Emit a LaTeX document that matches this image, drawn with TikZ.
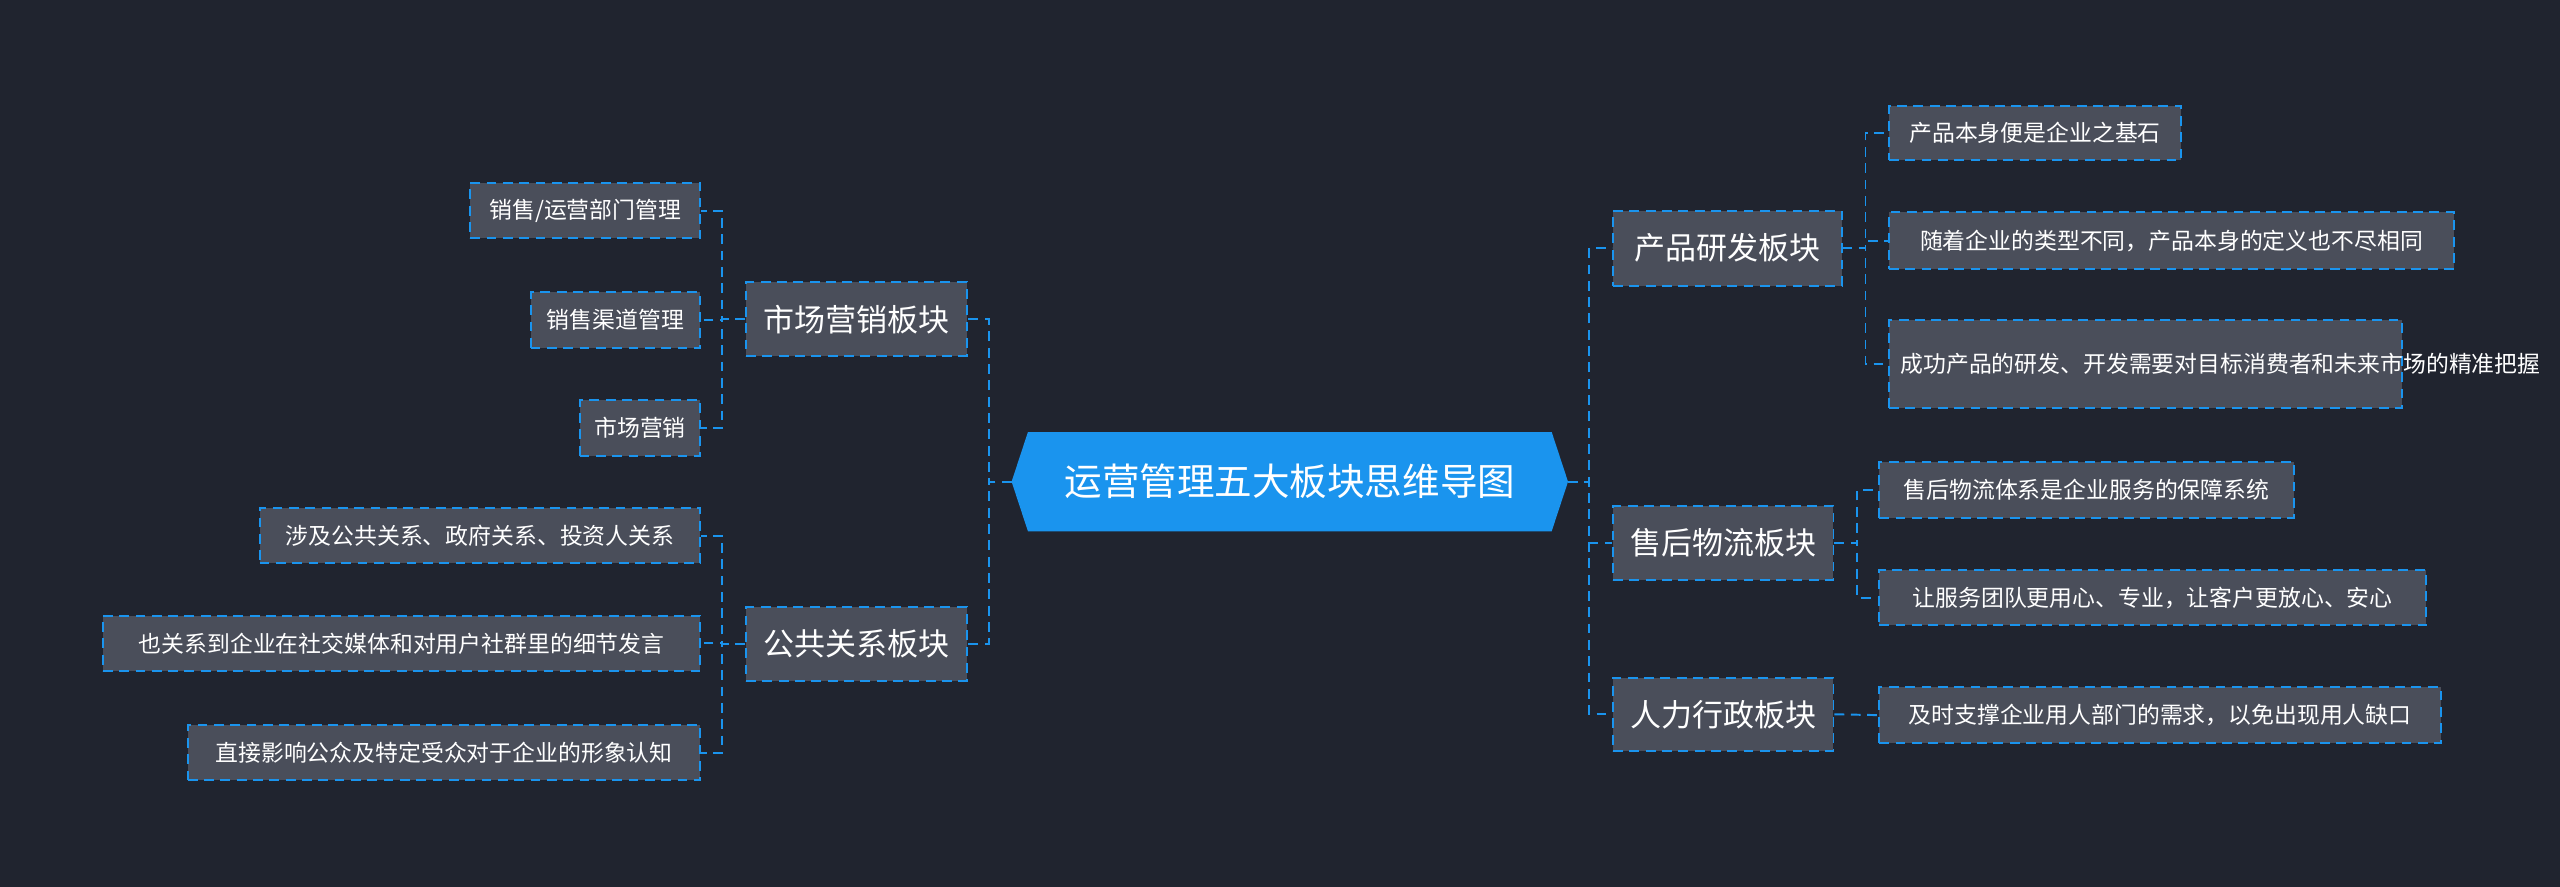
\documentclass[tikz,border=0pt]{standalone}
\usepackage{fontspec}
\setmainfont{Noto Sans CJK SC}
\begin{document}
\begin{tikzpicture}[x=0.5pt,y=-0.5pt,
  conn/.style={draw=cblue, densely dashed, line width=0.6pt},
  box/.style={draw=cblue, densely dashed, line width=0.6pt, fill=boxgray, text=white, inner sep=0pt, anchor=center},
  leaf/.style={box, font=\fontsize{7}{9}\selectfont},
  branch/.style={box, font=\fontsize{9.5}{11}\selectfont},
  sz/.style 2 args={minimum width=#1*0.5pt, minimum height=#2*0.5pt}]
\definecolor{bg}{HTML}{20242F}
\definecolor{boxgray}{HTML}{4A4E5A}
\definecolor{cblue}{HTML}{1A94EE}
\fill[bg] (0,0) rectangle (1568,543);
\useasboundingbox (0,0) rectangle (1568,543);
% center
\node[inner sep=0pt, sz={340}{60}] (c) at (790,295) {};
\fill[cblue] (c.west) -- ([xshift=5pt]c.north west) -- ([xshift=-5pt]c.north east) -- (c.east) -- ([xshift=-5pt]c.south east) -- ([xshift=5pt]c.south west) -- cycle;
\node[inner sep=0pt, text=white, font=\fontsize{11.5}{13}\selectfont] at (c) {运营管理五大板块思维导图};
% branches
\node[branch, sz={135}{45}] (b1) at (524.5,195.5) {市场营销板块};
\node[branch, sz={135}{45}] (b2) at (524.5,394.5) {公共关系板块};
\node[branch, sz={140}{46}] (b3) at (1058,152) {产品研发板块};
\node[branch, sz={135}{45}] (b4) at (1055.5,332.5) {售后物流板块};
\node[branch, sz={135}{45}] (b5) at (1055.5,437.5) {人力行政板块};
% leaves left
\node[leaf, sz={141}{34}] (l1) at (358.5,129) {销售/运营部门管理};
\node[leaf, sz={104}{34}] (l2) at (377,196) {销售渠道管理};
\node[leaf, sz={74}{34}] (l3) at (392,262) {市场营销};
\node[leaf, sz={270}{34}] (l4) at (294,328) {涉及公共关系、政府关系、投资人关系};
\node[leaf, sz={366}{34}] (l5) at (246,394) {也关系到企业在社交媒体和对用户社群里的细节发言};
\node[leaf, sz={314}{34}] (l6) at (272,461) {直接影响公众及特定受众对于企业的形象认知};
% leaves right
\node[leaf, sz={179}{33}] (r1) at (1246.5,81.5) {产品本身便是企业之基石};
\node[leaf, sz={346}{35}] (r2) at (1330,147.5) {随着企业的类型不同，产品本身的定义也不尽相同};
\node[leaf, sz={314}{54}, text width=150pt, align=left] (r3) at (1314,223) {成功产品的研发、开发需要对目标消费者和未来市场的精准把握};
\node[leaf, sz={254}{34}] (r4) at (1278,300) {售后物流体系是企业服务的保障系统};
\node[leaf, sz={335}{34}] (r5) at (1318.5,366) {让服务团队更用心、专业，让客户更放心、安心};
\node[leaf, sz={344}{34}] (r6) at (1323,438) {及时支撑企业用人部门的需求，以免出现用人缺口};
% connectors
\draw[conn] (c.west) -- ++(-14,0) |- (b1.east);
\draw[conn] (c.west) -- ++(-14,0) |- (b2.east);
\draw[conn] (c.east) -- ++(13,0) |- (b3.west);
\draw[conn] (c.east) -- ++(13,0) |- (b4.west);
\draw[conn] (c.east) -- ++(13,0) |- (b5.west);
\foreach \l in {l1,l2,l3} \draw[conn] (b1.west) -- ++(-14,0) |- (\l.east);
\foreach \l in {l4,l5,l6} \draw[conn] (b2.west) -- ++(-14,0) |- (\l.east);
\foreach \l in {r1,r2,r3} \draw[conn] (b3.east) -- ++(14,0) |- (\l.west);
\foreach \l in {r4,r5} \draw[conn] (b4.east) -- ++(14,0) |- (\l.west);
\draw[conn] (b5.east) -- (r6.west);
\end{tikzpicture}
\end{document}
